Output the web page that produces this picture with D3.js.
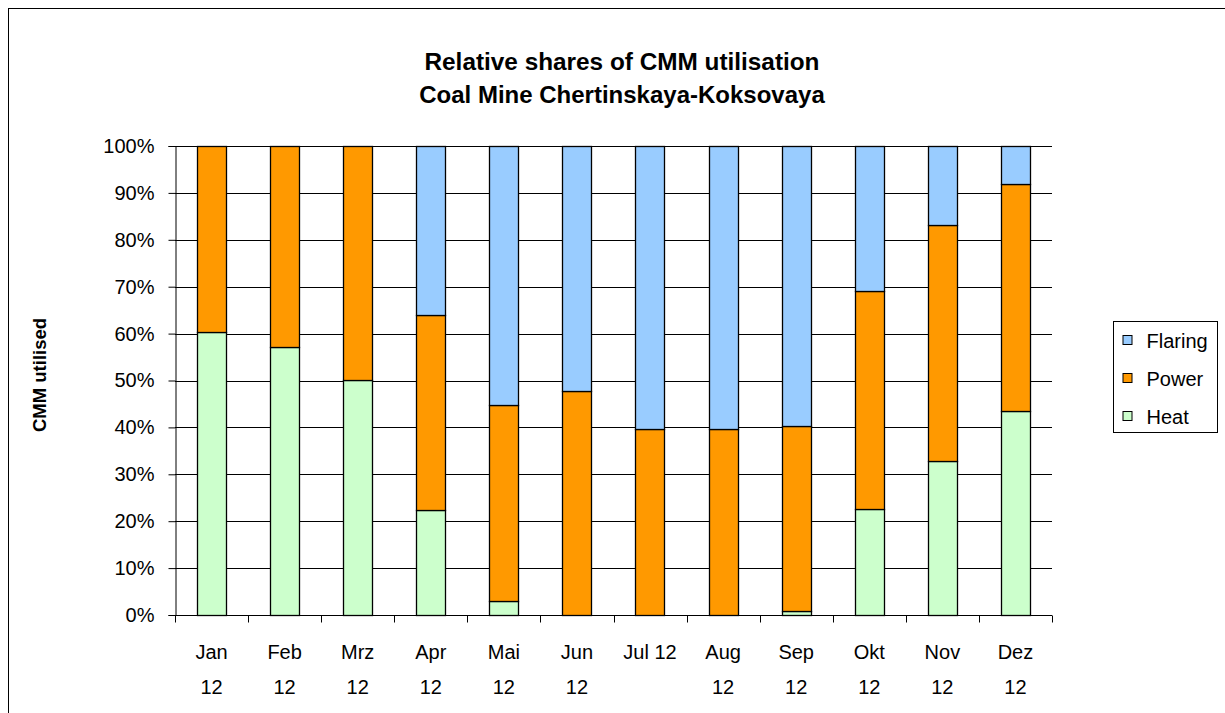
<!DOCTYPE html>
<html>
<head>
<meta charset="utf-8">
<script src="https://cdn.jsdelivr.net/npm/d3@7"></script>
<style>
  body { margin: 0; background: #fff; }
  svg { display: block; font-family: "Liberation Sans", Arial, sans-serif; }
</style>
</head>
<body>
<div id="svg-container"></div>
<script>
// data
const months = ["Jan 12", "Feb 12", "Mrz 12", "Apr 12", "Mai 12", "Jun 12",
  "Jul 12", "Aug 12", "Sep 12", "Okt 12", "Nov 12", "Dez 12"];
const monthLines = [["Jan", "12"], ["Feb", "12"], ["Mrz", "12"], ["Apr", "12"],
  ["Mai", "12"], ["Jun", "12"], ["Jul 12"], ["Aug", "12"], ["Sep", "12"],
  ["Okt", "12"], ["Nov", "12"], ["Dez", "12"]];
const heat = [60.3, 57.1, 50.1, 22.4, 2.9, 0, 0, 0, 0.9, 22.7, 32.9, 43.6];
const power = [39.7, 42.9, 49.9, 41.6, 41.9, 47.8, 39.6, 39.6, 39.4, 46.3, 50.3, 48.2];
const flaring = [0, 0, 0, 36.0, 55.2, 52.2, 60.4, 60.4, 59.7, 31.0, 16.8, 8.2];
const yTicks = [0, 10, 20, 30, 40, 50, 60, 70, 80, 90, 100];

const seriesKeys = ["Heat", "Power", "Flaring"];
const colors = { Heat: "#CCFFCC", Power: "#FF9900", Flaring: "#99CCFF" };

const width = 1225, height = 713;
const margin = { top: 146, right: 173, bottom: 98, left: 175 };

const svg = d3.select("#svg-container").append("svg")
  .attr("width", width).attr("height", height);

// outer frame
svg.append("rect")
  .attr("x", 8.5).attr("y", 8.5)
  .attr("width", width + 20).attr("height", height + 20)
  .attr("fill", "none").attr("stroke", "#000").attr("stroke-width", 1);

const table = months.map((m, i) => ({
  month: m, Heat: heat[i], Power: power[i], Flaring: flaring[i]
}));
const stacked = d3.stack().keys(seriesKeys)(table);

const xScale = d3.scaleBand().domain(months)
  .range([margin.left, width - margin.right]).paddingInner(0.6).paddingOuter(0.3);
const yScale = d3.scaleLinear().domain([0, 100])
  .range([height - margin.bottom, margin.top]);

// gridlines
svg.append("g").selectAll("line")
  .data(yTicks.filter(d => d > 0))
  .join("line")
  .attr("x1", margin.left).attr("x2", width - margin.right)
  .attr("y1", d => Math.round(yScale(d)) + 0.5)
  .attr("y2", d => Math.round(yScale(d)) + 0.5)
  .attr("stroke", "#000").attr("stroke-width", 1);

// bars
svg.append("g").selectAll("g")
  .data(stacked)
  .join("g")
  .attr("fill", d => colors[d.key])
  .selectAll("rect")
  .data(d => d.filter(s => s[1] - s[0] > 0))
  .join("rect")
  .attr("x", d => Math.round(xScale(d.data.month)) + 0.5)
  .attr("width", Math.round(xScale.bandwidth()))
  .attr("y", d => Math.round(yScale(d[1])) + 0.5)
  .attr("height", d => Math.round(yScale(d[0])) - Math.round(yScale(d[1])))
  .attr("stroke", "#000").attr("stroke-width", 1.3);

// y axis
const yAxis = d3.axisLeft(yScale).tickValues(yTicks)
  .tickFormat(d => d + "%").tickSize(7).tickPadding(14);
const gy = svg.append("g")
  .attr("transform", `translate(${margin.left + 0.5},0)`)
  .call(yAxis);
gy.select(".domain").attr("stroke", "#000");
gy.selectAll(".tick line").attr("stroke", "#000");
gy.selectAll(".tick text")
  .attr("font-size", 20).attr("fill", "#000")
  .attr("font-family", "'Liberation Sans', Arial, sans-serif");

// x axis
const x0 = Math.round(yScale(0)) + 0.5;
const boundaries = d3.range(months.length + 1).map(i => margin.left + i * (width - margin.left - margin.right) / months.length);
svg.append("line")
  .attr("x1", margin.left).attr("x2", width - margin.right)
  .attr("y1", x0).attr("y2", x0).attr("stroke", "#000");
svg.append("g").selectAll("line")
  .data(boundaries)
  .join("line")
  .attr("x1", d => Math.round(d) + 0.5).attr("x2", d => Math.round(d) + 0.5)
  .attr("y1", x0).attr("y2", x0 + 7)
  .attr("stroke", "#000");

const xLabels = svg.append("g").selectAll("text")
  .data(months)
  .join("text")
  .attr("x", d => xScale(d) + xScale.bandwidth() / 2)
  .attr("y", 659)
  .attr("text-anchor", "middle")
  .attr("font-size", 20).attr("fill", "#000");
xLabels.selectAll("tspan")
  .data((d, i) => monthLines[i])
  .join("tspan")
  .attr("x", function () { return this.parentNode.getAttribute("x"); })
  .attr("dy", (d, i) => i === 0 ? 0 : 35)
  .text(d => d);

// titles
svg.append("text")
  .attr("x", 622).attr("y", 70)
  .attr("text-anchor", "middle")
  .attr("font-size", 24).attr("font-weight", "bold")
  .attr("textLength", 395).attr("lengthAdjust", "spacingAndGlyphs")
  .text("Relative shares of CMM utilisation");
svg.append("text")
  .attr("x", 622).attr("y", 103)
  .attr("text-anchor", "middle")
  .attr("font-size", 24).attr("font-weight", "bold")
  .text("Coal Mine Chertinskaya-Koksovaya");

svg.append("text")
  .attr("transform", "translate(46,375) rotate(-90)")
  .attr("text-anchor", "middle")
  .attr("font-size", 18.5).attr("font-weight", "bold")
  .text("CMM utilised");

// legend
const legend = svg.append("g").attr("transform", "translate(1113.5,321.5)");
legend.append("rect")
  .attr("width", 104).attr("height", 111)
  .attr("fill", "#fff").attr("stroke", "#000");
const legendKeys = ["Flaring", "Power", "Heat"];
const li = legend.selectAll("g.item")
  .data(legendKeys)
  .join("g")
  .attr("class", "item")
  .attr("transform", (d, i) => `translate(0,${19 + i * 38})`);
li.append("rect")
  .attr("x", 9.5).attr("y", -5)
  .attr("width", 9).attr("height", 9)
  .attr("fill", d => colors[d]).attr("stroke", "#000");
li.append("text")
  .attr("x", 33).attr("y", 7)
  .attr("font-size", 20)
  .text(d => d);
</script>
</body>
</html>
